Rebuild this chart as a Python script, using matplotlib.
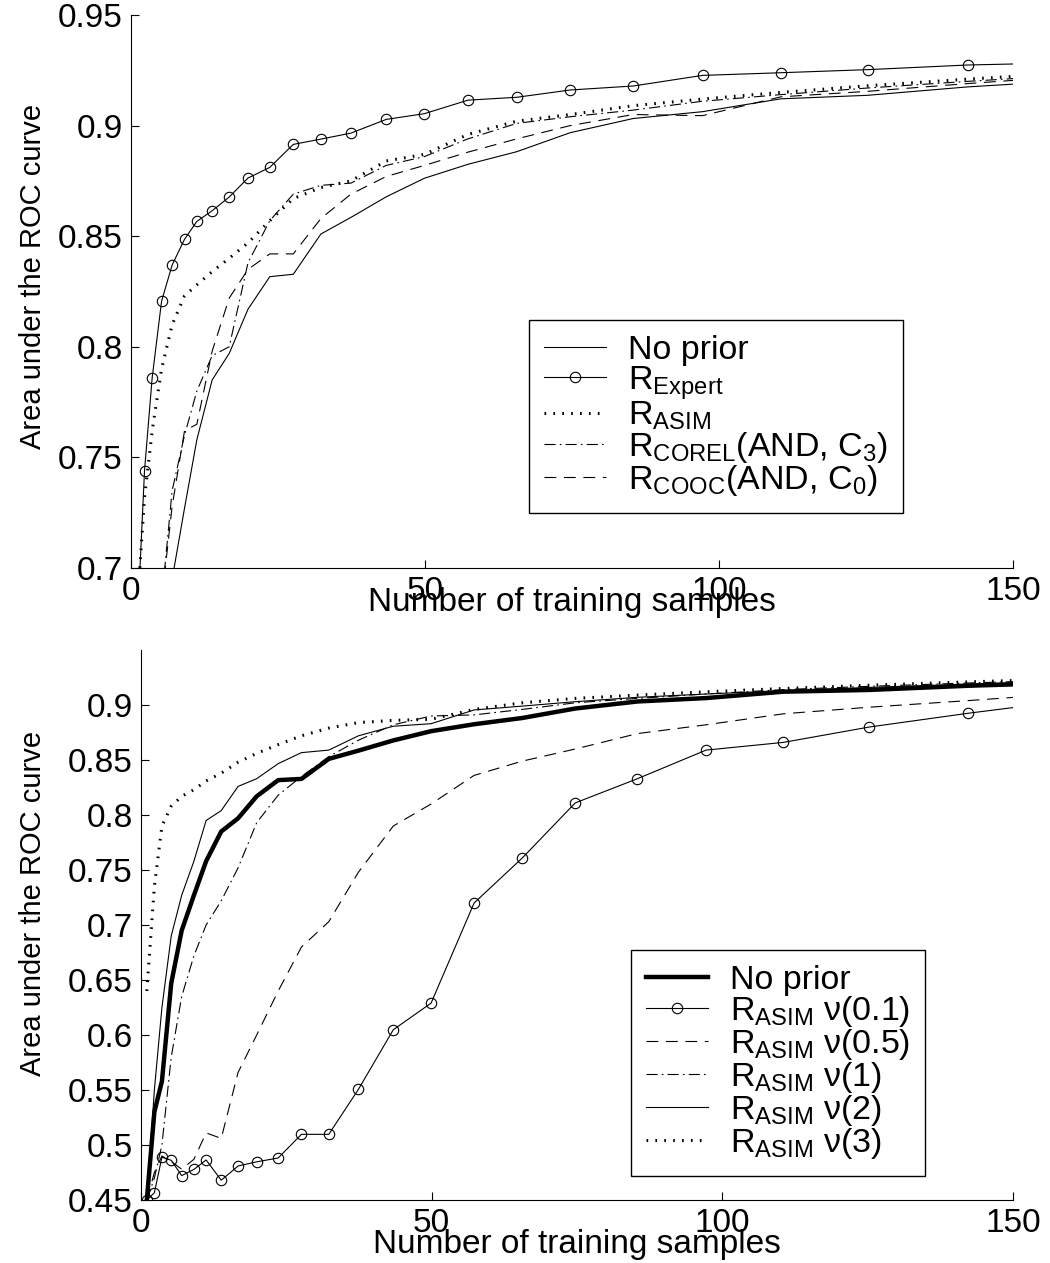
import matplotlib
matplotlib.use("Agg")
import matplotlib.pyplot as plt
from matplotlib import font_manager

# sample sizes on the x axis (last point lies past the axis and is clipped)
n_samples = [1, 2.3, 3.6, 5.2, 7.0, 9.1, 11.2, 13.8, 16.7, 19.9, 23.6, 27.6,
             32.3, 37.4, 43.4, 49.9, 57.3, 65.6, 74.7, 85.4, 97.2, 110.5,
             125.3, 142.3, 161]

no_prior = [0.45, 0.53, 0.558, 0.647, 0.695, 0.727, 0.758, 0.785, 0.797,
            0.817, 0.8317, 0.8328, 0.851, 0.8585, 0.8678, 0.8762, 0.8825,
            0.8882, 0.8968, 0.9032, 0.9063, 0.9121, 0.9137, 0.9175, 0.9205]

# top panel
r_expert = [0.67, 0.744, 0.786, 0.8206, 0.837, 0.8486, 0.8567, 0.8615,
            0.8677, 0.8763, 0.8811, 0.8915, 0.8939, 0.8966, 0.9028, 0.9054,
            0.9115, 0.9128, 0.9161, 0.9179, 0.9227, 0.9239, 0.9253, 0.9274,
            0.9285]
r_asim = [0.68, 0.732, 0.762, 0.79, 0.81, 0.823, 0.828, 0.834, 0.840, 0.847,
          0.857, 0.867, 0.872, 0.875, 0.884, 0.887, 0.896, 0.902, 0.905,
          0.909, 0.912, 0.915, 0.918, 0.921, 0.924]
r_corel = [0.45, 0.56, 0.62, 0.685, 0.735, 0.76, 0.78, 0.796, 0.80, 0.838,
           0.857, 0.869, 0.873, 0.874, 0.882, 0.886, 0.894, 0.901, 0.904,
           0.907, 0.911, 0.914, 0.917, 0.920, 0.923]
r_cooc = [0.45, 0.56, 0.62, 0.685, 0.728, 0.762, 0.765, 0.798, 0.822, 0.835,
          0.842, 0.842, 0.858, 0.869, 0.877, 0.882, 0.888, 0.894, 0.900,
          0.905, 0.9045, 0.913, 0.9155, 0.919, 0.9225]

# bottom panel
asim_nu01 = [0.45, 0.4566, 0.4889, 0.4861, 0.4722, 0.4778, 0.4864, 0.468,
             0.4809, 0.4847, 0.4882, 0.5097, 0.5097, 0.5506, 0.6048, 0.629,
             0.72, 0.761, 0.811, 0.833, 0.859, 0.866, 0.880, 0.8925, 0.905]
asim_nu05 = [0.45, 0.475, 0.49, 0.485, 0.478, 0.487, 0.511, 0.506, 0.566,
             0.60, 0.64, 0.68, 0.703, 0.748, 0.79, 0.81, 0.836, 0.849, 0.86,
             0.874, 0.882, 0.892, 0.898, 0.904, 0.911]
asim_nu1 = [0.45, 0.47, 0.50, 0.58, 0.635, 0.672, 0.70, 0.722, 0.752, 0.793,
            0.818, 0.835, 0.853, 0.868, 0.882, 0.89, 0.891, 0.896, 0.902,
            0.906, 0.910, 0.914, 0.917, 0.920, 0.923]
asim_nu2 = [0.45, 0.55, 0.625, 0.69, 0.727, 0.758, 0.795, 0.804, 0.826,
            0.833, 0.8467, 0.8567, 0.859, 0.872, 0.8807, 0.883, 0.8955,
            0.899, 0.903, 0.907, 0.910, 0.913, 0.916, 0.919, 0.922]
asim_nu3 = [0.64, 0.735, 0.79, 0.808, 0.817, 0.823, 0.831, 0.838, 0.848,
            0.856, 0.864, 0.872, 0.879, 0.884, 0.886, 0.887, 0.896, 0.902,
            0.906, 0.909, 0.912, 0.915, 0.918, 0.921, 0.924]

x_ticks = [0, 50, 100, 150]
x_tick_labels = ["0", "50", "100", "150"]
top_y_ticks = [0.7, 0.75, 0.8, 0.85, 0.9, 0.95]
top_y_labels = ["0.7", "0.75", "0.8", "0.85", "0.9", "0.95"]
bottom_y_ticks = [0.45, 0.5, 0.55, 0.6, 0.65, 0.7, 0.75, 0.8, 0.85, 0.9]
bottom_y_labels = ["0.45", "0.5", "0.55", "0.6", "0.65", "0.7", "0.75",
                   "0.8", "0.85", "0.9"]

available = {f.name for f in font_manager.fontManager.ttflist}
plt.rcParams["font.family"] = ["Liberation Sans", "DejaVu Sans"]
plt.rcParams["mathtext.fontset"] = "custom"
plt.rcParams["mathtext.rm"] = "Liberation Sans"
plt.rcParams["mathtext.it"] = "Liberation Sans:italic"
plt.rcParams["mathtext.bf"] = "Liberation Sans:bold"
plt.rcParams["lines.scale_dashes"] = False

if "Liberation Sans Narrow" in available:
    ylabel_font = dict(family="Liberation Sans Narrow", size=25.5)
else:
    ylabel_font = dict(family="Liberation Sans", size=21)

THIN = 0.8
DOTTED = (0, (1.2, 5.2))
DASHED = (0, (8.5, 5.5))
DASHDOT = (0, (8, 3, 1.2, 3))
W, H = 1050, 1263

fig = plt.figure(figsize=(W / 100, H / 100), dpi=100)
ax1 = fig.add_axes([131 / W, 1 - 568 / H, 882 / W, 553 / H])
ax2 = fig.add_axes([141 / W, 1 - 1200 / H, 872 / W, 550 / H])


def style_axes(ax, yticks, ylabels, ylim, xlabel_y, ylabel_x, ylabel_y):
    ax.set_xlim(0, 150)
    ax.set_ylim(*ylim)
    ax.set_xticks(x_ticks)
    ax.set_xticklabels(x_tick_labels)
    ax.set_yticks(yticks)
    ax.set_yticklabels(ylabels)
    ax.tick_params(direction="in", length=5.5, width=0.8, labelsize=24,
                   pad=6, color="black")
    for side in ["top", "right"]:
        ax.spines[side].set_visible(False)
    for side in ["left", "bottom"]:
        ax.spines[side].set_linewidth(0.8)
    ax.set_xlabel("Number of training samples", fontsize=24)
    ax.xaxis.set_label_coords(0.5, xlabel_y)
    ax.set_ylabel("Area under the ROC curve", **ylabel_font)
    ax.yaxis.set_label_coords(ylabel_x, ylabel_y)


# top panel
ax1.plot(n_samples, no_prior, color="black", lw=THIN, label="No prior")
ax1.plot(n_samples, r_expert, color="black", lw=THIN, marker="o", ms=7.5,
         mfc="none", mew=0.8, label=r"R$_{\mathrm{Expert}}$")
ax1.plot(n_samples, r_asim, color="black", lw=2.2, ls=DOTTED,
         label=r"R$_{\mathrm{ASIM}}$")
ax1.plot(n_samples, r_corel, color="black", lw=THIN, ls=DASHDOT,
         label=r"R$_{\mathrm{COREL}}$(AND, C$_3$)")
ax1.plot(n_samples, r_cooc, color="black", lw=THIN, ls=DASHED,
         label=r"R$_{\mathrm{COOC}}$(AND, C$_0$)")
style_axes(ax1, top_y_ticks, top_y_labels, (0.7, 0.95), -0.035, -0.095,
           0.528)

# bottom panel
ax2.plot(n_samples, no_prior, color="black", lw=3.2, label="No prior")
ax2.plot(n_samples, asim_nu01, color="black", lw=THIN, marker="o", ms=7.5,
         mfc="none", mew=0.8, label=r"R$_{\mathrm{ASIM}}$ ν(0.1)")
ax2.plot(n_samples, asim_nu05, color="black", lw=THIN, ls=DASHED,
         label=r"R$_{\mathrm{ASIM}}$ ν(0.5)")
ax2.plot(n_samples, asim_nu1, color="black", lw=THIN, ls=DASHDOT,
         label=r"R$_{\mathrm{ASIM}}$ ν(1)")
ax2.plot(n_samples, asim_nu2, color="black", lw=THIN,
         label=r"R$_{\mathrm{ASIM}}$ ν(2)")
ax2.plot(n_samples, asim_nu3, color="black", lw=2.2, ls=DOTTED,
         label=r"R$_{\mathrm{ASIM}}$ ν(3)")
style_axes(ax2, bottom_y_ticks, bottom_y_labels, (0.45, 0.95), -0.052,
           -0.108, 0.54)

legend_kw = dict(loc="upper left", bbox_transform=fig.transFigure,
                 fancybox=False, edgecolor="black", framealpha=1,
                 fontsize=24.5, handlelength=1.8, handletextpad=0.65,
                 borderpad=0.45, labelspacing=-0.06, borderaxespad=0)
leg1 = ax1.legend(bbox_to_anchor=(529 / W, 1 - 320 / H), **legend_kw)
leg2 = ax2.legend(bbox_to_anchor=(631 / W, 1 - 950 / H), **legend_kw)
for leg in (leg1, leg2):
    leg.get_frame().set_linewidth(1.0)

fig.savefig("out.png", dpi=100)
plt.close(fig)
